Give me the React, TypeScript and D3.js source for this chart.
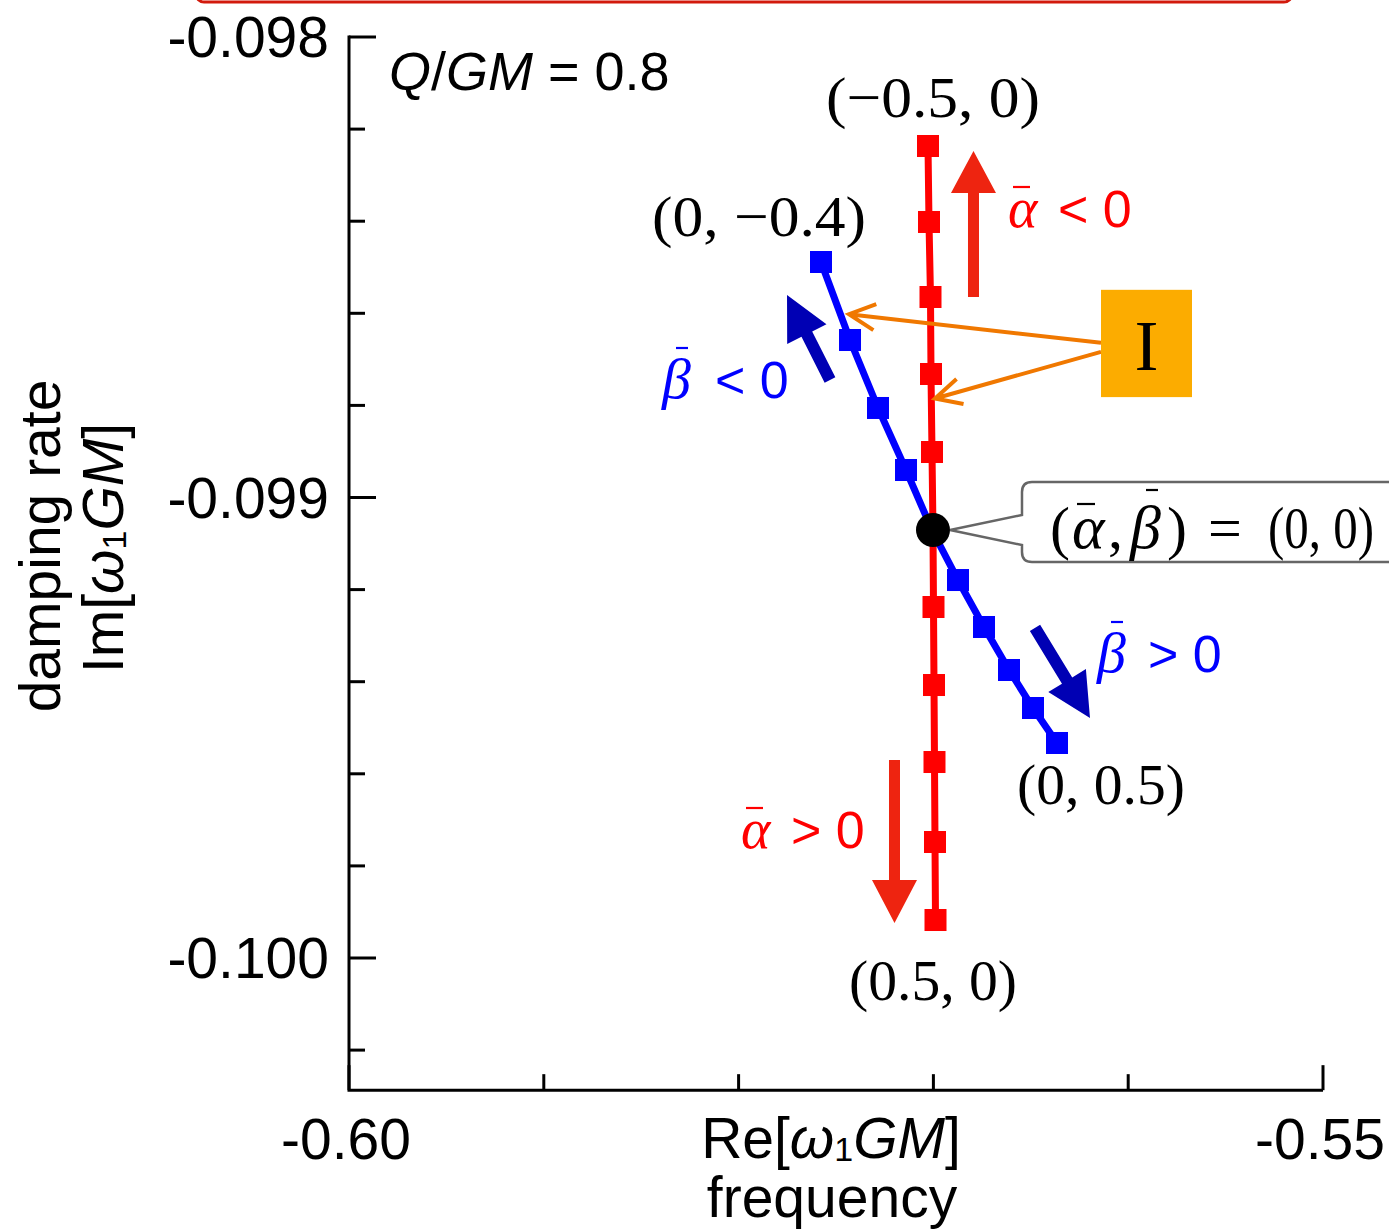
import React from 'react';
import * as d3 from 'd3';

// ---------- data ----------
const alphaParams = [-0.5, -0.4, -0.3, -0.2, -0.1, 0, 0.1, 0.2, 0.3, 0.4, 0.5];
const alphaRe = [-0.570277, -0.570226, -0.570149, -0.570123, -0.570072, -0.570021, -0.569995, -0.569969, -0.569944, -0.569918, -0.569892];
const alphaIm = [-0.0982367, -0.0984017, -0.0985646, -0.0987318, -0.0989012, -0.0990706, -0.0992378, -0.0994072, -0.0995744, -0.0997481, -0.0999175];

const betaParams = [-0.4, -0.3, -0.2, -0.1, 0, 0.1, 0.2, 0.3, 0.4, 0.5];
const betaRe = [-0.57577, -0.574281, -0.572844, -0.571406, -0.570072, -0.568737, -0.567402, -0.566119, -0.564887, -0.563655];
const betaIm = [-0.0984886, -0.098658, -0.0988056, -0.0989403, -0.0990706, -0.0991792, -0.0992812, -0.0993746, -0.0994571, -0.0995331];

const xTickValues = [-0.6, -0.59, -0.58, -0.57, -0.56, -0.55];
const xTickLabels = ['-0.60', '', '', '', '', '-0.55'];
const yTickValues = [-0.098, -0.0982, -0.0984, -0.0986, -0.0988, -0.099, -0.0992, -0.0994, -0.0996, -0.0998, -0.1, -0.1002];
const yTickLabels = ['-0.098', '', '', '', '', '-0.099', '', '', '', '', '-0.100', ''];

// annotation anchors (data coordinates)
const redUpArrow = [[-0.567942, -0.0985646], [-0.567942, -0.0982476]];
const redDownArrow = [[-0.571997, -0.09957], [-0.571997, -0.099924]];
const blueUpArrow = [[-0.575308, -0.098745], [-0.577515, -0.09856]];
const blueDownArrow = [[-0.564784, -0.099283], [-0.561961, -0.099479]];

const SANS = '"Liberation Sans", Arial, Helvetica, sans-serif';
const SERIF = '"Liberation Serif", "Times New Roman", serif';

const RED = '#ff0000';
const BLUE = '#0000ff';
const ARROW_RED = '#ee2410';
const ARROW_BLUE = '#0000b4';
const ORANGE = '#f07800';
const BOX_ORANGE = '#fcac00';

function blockArrow(x1: number, y1: number, x2: number, y2: number, shaftW: number, headW: number, headL: number) {
  const dx = x2 - x1, dy = y2 - y1;
  const L = Math.hypot(dx, dy);
  const ux = dx / L, uy = dy / L;
  const px = -uy, py = ux;
  const bx = x2 - ux * headL, by = y2 - uy * headL;
  const pts = [
    [x1 + px * shaftW / 2, y1 + py * shaftW / 2],
    [bx + px * shaftW / 2, by + py * shaftW / 2],
    [bx + px * headW / 2, by + py * headW / 2],
    [x2, y2],
    [bx - px * headW / 2, by - py * headW / 2],
    [bx - px * shaftW / 2, by - py * shaftW / 2],
    [x1 - px * shaftW / 2, y1 - py * shaftW / 2],
  ];
  return pts.map(p => p.join(',')).join(' ');
}

function lineArrow(x1: number, y1: number, x2: number, y2: number, headL: number, headHalf: number) {
  const dx = x2 - x1, dy = y2 - y1;
  const L = Math.hypot(dx, dy);
  const ux = dx / L, uy = dy / L;
  const px = -uy, py = ux;
  const bx = x2 - ux * headL, by = y2 - uy * headL;
  return `M${x1},${y1}L${x2},${y2}M${bx + px * headHalf},${by + py * headHalf}L${x2},${y2}L${bx - px * headHalf},${by - py * headHalf}`;
}

// Greek italic letter with a bar above
function BarVar({ x, y, ch, size, color, barY, barX, barW }: any) {
  return (
    <g>
      <text x={x} y={y} fontFamily={SERIF} fontStyle="italic" fontSize={size} fill={color}>{ch}</text>
      <line x1={x + barX} x2={x + barX + barW} y1={y - barY} y2={y - barY} stroke={color} strokeWidth={2.2} />
    </g>
  );
}

export default function App() {
  const W = 1389, H = 1229;
  const x = d3.scaleLinear().domain([-0.6, -0.55]).range([349, 1323]);
  const y = d3.scaleLinear().domain([-0.098, -0.1]).range([37, 958]);
  const yBottom = y(-0.100287);
  const xLeft = x(-0.6), xRight = x(-0.55);

  const alphaPts = alphaParams.map((_, i) => [x(alphaRe[i]), y(alphaIm[i])] as [number, number]);
  const betaPts = betaParams.map((_, i) => [x(betaRe[i]), y(betaIm[i])] as [number, number]);
  const line = d3.line();

  const center = alphaPts[alphaParams.indexOf(0)];
  const ms = 22;

  const pa = (a: number[][]) => a.map(p => [x(p[0]), y(p[1])]);
  const ru = pa(redUpArrow), rd = pa(redDownArrow), bu = pa(blueUpArrow), bd = pa(blueDownArrow);

  // orange box "I"
  const boxX0 = x(-0.561396), boxX1 = x(-0.556725), boxY0 = y(-0.098549), boxY1 = y(-0.098782);
  const oTarget1 = [x(-0.574333), y(-0.098602)];
  const oTarget2 = [x(-0.569918), y(-0.098785)];

  // callout
  const cx = center[0], cy = center[1];
  const cbL = cx + 89, cbT = cy - 48, cbB = cy + 32, cbR = W + 20, r = 10;
  const callout = `M${cbL},${cy - 15}L${cbL},${cbT + r}Q${cbL},${cbT} ${cbL + r},${cbT}L${cbR},${cbT}L${cbR},${cbB}L${cbL + r},${cbB}Q${cbL},${cbB} ${cbL},${cbB - r}L${cbL},${cy + 15}L${cx + 17},${cy}Z`;

  return (
    <svg width={W} height={H} style={{ position: 'absolute', left: 0, top: 0, background: '#fff' }}>
      {/* clipped frame at top */}
      <rect x={196} y={-60} width={1096} height={62} rx={8} fill="none" stroke="#d21a0c" strokeWidth={3} />

      {/* axes */}
      <g stroke="#000" strokeWidth={3} fill="none">
        <path d={`M${xLeft},${y(-0.098) - 1.5}L${xLeft},${yBottom}L${xRight},${yBottom}`} />
        {yTickValues.map((v, i) => (
          <line key={'yt' + i} x1={xLeft} x2={xLeft + (yTickLabels[i] ? 27 : 16)} y1={y(v)} y2={y(v)} />
        ))}
        {xTickValues.map((v, i) => (
          <line key={'xt' + i} x1={x(v)} x2={x(v)} y1={yBottom} y2={yBottom - (xTickLabels[i] ? 25 : 16)} />
        ))}
      </g>
      <g fontFamily={SANS} fontSize={57} fill="#000">
        {yTickValues.map((v, i) => yTickLabels[i] ? (
          <text key={'yl' + i} x={329} y={y(v) + 20} textAnchor="end">{yTickLabels[i]}</text>
        ) : null)}
        {xTickValues.map((v, i) => xTickLabels[i] ? (
          <text key={'xl' + i} x={x(v) - 3} y={1159} textAnchor="middle">{xTickLabels[i]}</text>
        ) : null)}
        <text x={831} y={1158} textAnchor="middle">Re[<tspan fontStyle="italic">ω</tspan><tspan fontSize={34} dy={3}>1</tspan><tspan dy={-3} fontStyle="italic">GM</tspan>]</text>
        <text x={832} y={1217} textAnchor="middle">frequency</text>
        <text transform="translate(60,546) rotate(-90)" textAnchor="middle">damping rate</text>
        <text transform="translate(123,548) rotate(-90)" textAnchor="middle">Im[<tspan fontStyle="italic">ω</tspan><tspan fontSize={34} dy={3}>1</tspan><tspan dy={-3} fontStyle="italic">GM</tspan>]</text>
      </g>
      <text x={389} y={90} fontFamily={SANS} fontSize={54}><tspan fontStyle="italic">Q</tspan>/<tspan fontStyle="italic">GM</tspan> = 0.8</text>

      {/* blue series */}
      <path d={line(betaPts) || ''} fill="none" stroke={BLUE} strokeWidth={7} />
      {betaPts.map((p, i) => (
        <rect key={'b' + i} x={p[0] - ms / 2} y={p[1] - ms / 2} width={ms} height={ms} fill={BLUE} />
      ))}
      {/* red series */}
      <path d={line(alphaPts) || ''} fill="none" stroke={RED} strokeWidth={7} />
      {alphaPts.map((p, i) => (
        <rect key={'r' + i} x={p[0] - ms / 2} y={p[1] - ms / 2} width={ms} height={ms} fill={RED} />
      ))}

      {/* direction arrows */}
      <polygon points={blockArrow(ru[0][0], ru[0][1], ru[1][0], ru[1][1], 11, 45, 42)} fill={ARROW_RED} />
      <polygon points={blockArrow(rd[0][0], rd[0][1], rd[1][0], rd[1][1], 11, 45, 43)} fill={ARROW_RED} />
      <polygon points={blockArrow(bu[0][0], bu[0][1], bu[1][0], bu[1][1], 12, 44, 44)} fill={ARROW_BLUE} />
      <polygon points={blockArrow(bd[0][0], bd[0][1], bd[1][0], bd[1][1], 12, 44, 44)} fill={ARROW_BLUE} />

      {/* orange box and arrows */}
      <path d={lineArrow(boxX0, boxY0 + 53, oTarget1[0], oTarget1[1], 26, 13)} fill="none" stroke={ORANGE} strokeWidth={4} />
      <path d={lineArrow(boxX0, boxY0 + 62, oTarget2[0], oTarget2[1], 26, 13)} fill="none" stroke={ORANGE} strokeWidth={4} />
      <rect x={boxX0} y={boxY0} width={boxX1 - boxX0} height={boxY1 - boxY0} fill={BOX_ORANGE} />
      <text x={(boxX0 + boxX1) / 2} y={boxY0 + 80} textAnchor="middle" fontFamily={SERIF} fontSize={72} fill="#000">I</text>

      {/* callout */}
      <path d={callout} fill="#fff" stroke="#666" strokeWidth={2.5} />
      <circle cx={cx} cy={cy} r={17} fill="#000" />
      <g fontFamily={SERIF} fontSize={60} fill="#000">
        <text x={1050} y={548}>(</text>
        <text x={1108} y={548}>,</text>
        <text x={1167} y={548}>)</text>
        <text x={1208} y={548}>=</text>
        <text x={1268} y={548} textLength={106} lengthAdjust="spacingAndGlyphs">(0, 0)</text>
      </g>
      <BarVar x={1072} y={548} ch="α" size={62} color="#000" barY={44} barX={5} barW={18} />
      <BarVar x={1130} y={548} ch="β" size={62} color="#000" barY={58} barX={16} barW={12} />

      {/* endpoint labels */}
      <g fontFamily={SERIF} fontSize={58} fill="#000">
        <text x={826} y={117} textLength={214} lengthAdjust="spacingAndGlyphs">(−0.5, 0)</text>
        <text x={652} y={236} textLength={214} lengthAdjust="spacingAndGlyphs">(0, −0.4)</text>
        <text x={1017} y={804} textLength={168} lengthAdjust="spacingAndGlyphs">(0, 0.5)</text>
        <text x={849} y={1000} textLength={168} lengthAdjust="spacingAndGlyphs">(0.5, 0)</text>
      </g>

      {/* direction labels */}
      <BarVar x={1008} y={227} ch="α" size={56} color={RED} barY={40} barX={5} barW={17} />
      <text x={1058} y={227} fontFamily={SANS} fontSize={52} fill={RED}>&lt; 0</text>
      <BarVar x={662} y={398} ch="β" size={58} color={BLUE} barY={50} barX={14} barW={12} />
      <text x={715} y={398} fontFamily={SANS} fontSize={52} fill={BLUE}>&lt; 0</text>
      <BarVar x={1097} y={672} ch="β" size={58} color={BLUE} barY={50} barX={14} barW={12} />
      <text x={1148} y={672} fontFamily={SANS} fontSize={52} fill={BLUE}>&gt; 0</text>
      <BarVar x={741} y={848} ch="α" size={56} color={RED} barY={40} barX={5} barW={17} />
      <text x={791} y={848} fontFamily={SANS} fontSize={52} fill={RED}>&gt; 0</text>
    </svg>
  );
}
